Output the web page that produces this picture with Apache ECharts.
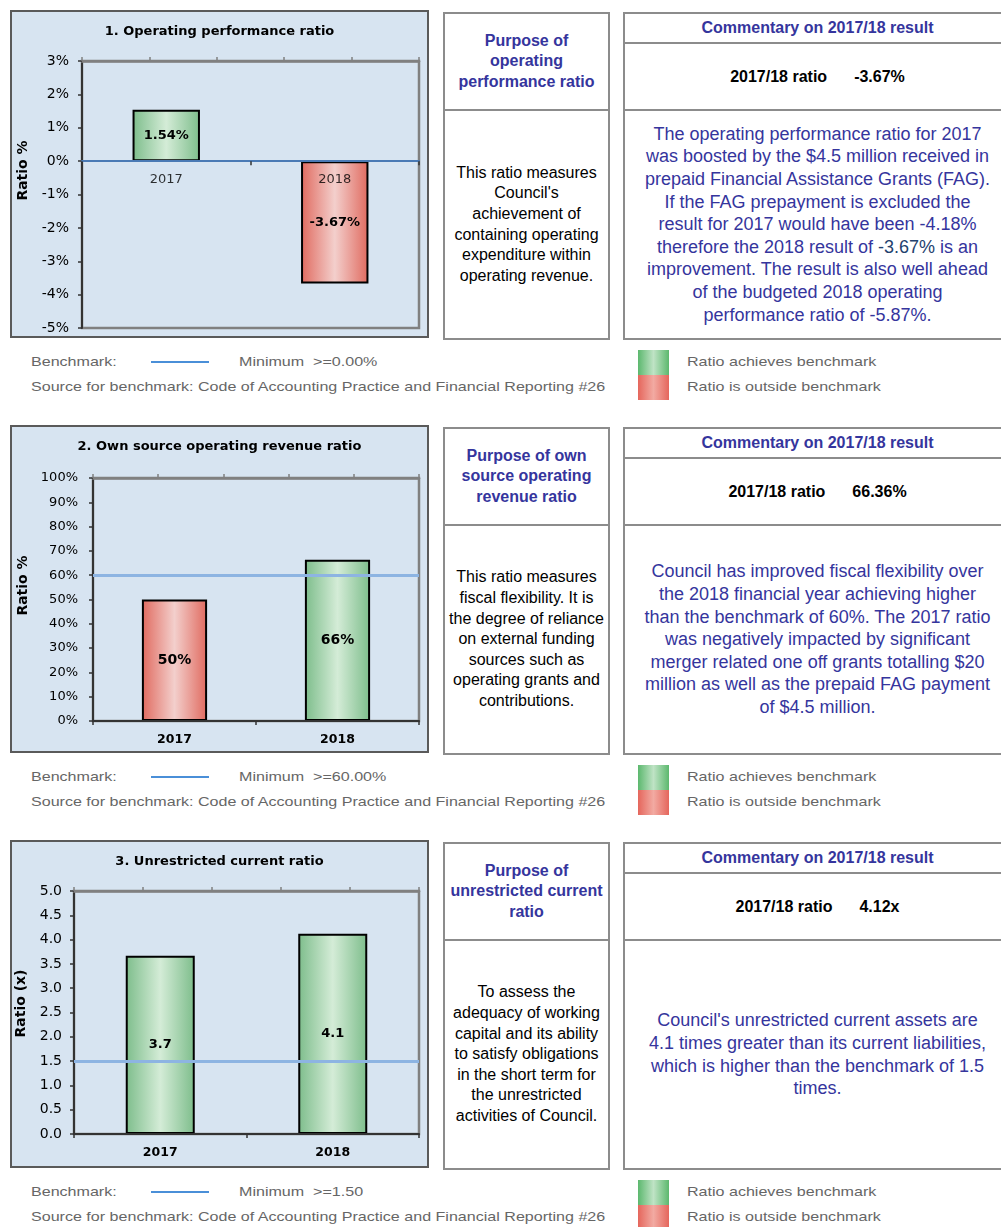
<!DOCTYPE html>
<html>
<head>
<meta charset="utf-8">
<script src="https://cdn.jsdelivr.net/npm/echarts@6.0.0/dist/echarts.min.js"></script>
<style>
  html, body { margin: 0; padding: 0; }
  body { width: 1001px; height: 1227px; overflow: hidden; background: #fff; position: relative;
         font-family: 'Liberation Sans', Arial, sans-serif; }
  .row { position: absolute; left: 0; width: 1001px; height: 415px; }
  .panel { position: absolute; left: 10px; top: 10px; width: 419px; height: 328px; box-sizing: border-box;
           border: 2px solid #5a5a5a; background: #d7e4f1; }
  .chart { position: absolute; left: 0; top: 0; width: 415px; height: 324px; }
  .box { position: absolute; top: 12px; height: 328px; box-sizing: border-box; border: 2px solid #8c8c8c;
         display: flex; flex-direction: column; }
  .purpose { left: 443px; width: 167px; }
  .comment { left: 623px; width: 389px; }
  .sec { display: flex; align-items: center; justify-content: center; text-align: center; box-sizing: border-box;
         white-space: nowrap; }
  .purpose .h { height: 97px; border-bottom: 2px solid #8c8c8c; color: #35359d; font-weight: bold;
                font-size: 16px; line-height: 20.5px; }
  .purpose .b { flex: 1; font-size: 16px; line-height: 20.6px; color: #000; }
  .comment .h { height: 30px; border-bottom: 2px solid #8c8c8c; color: #35359d; font-weight: bold; font-size: 16px; }
  .comment .r { height: 67px; border-bottom: 2px solid #8c8c8c; color: #000; font-weight: bold; font-size: 16px; }
  .comment .r span + span { margin-left: 27px; }
  .comment .b { flex: 1; color: #35359d; font-size: 18px; line-height: 22.6px; }
  .lg { position: absolute; font-size: 13.5px; line-height: 16px; color: #666; white-space: nowrap;
        transform: scaleX(1.19); transform-origin: left center; }
  .bline { position: absolute; left: 151px; top: 361px; width: 58px; height: 2px; background: #4a8fd8; }
  .sw { position: absolute; left: 638px; width: 31px; height: 25px; }
  .sw.g { top: 350px; background: linear-gradient(to right, #5cb86e, #bfe3c5 50%, #5cb86e); }
  .sw.r { top: 375px; background: linear-gradient(to right, #e5665c, #f2aaa2 50%, #e5665c); }
</style>
</head>
<body>

<div class="row" style="top:0px">
  <div class="panel"><div class="chart" id="c1"></div></div>
  <div class="box purpose">
    <div class="sec h"><div>Purpose of<br>operating<br>performance ratio</div></div>
    <div class="sec b"><div>This ratio measures<br>Council's<br>achievement of<br>containing operating<br>expenditure within<br>operating revenue.</div></div>
  </div>
  <div class="box comment">
    <div class="sec h"><div>Commentary on 2017/18 result</div></div>
    <div class="sec r"><span>2017/18 ratio</span><span>-3.67%</span></div>
    <div class="sec b"><div>The operating performance ratio for 2017<br>was boosted by the $4.5 million received in<br>prepaid Financial Assistance Grants (FAG).<br>If the FAG prepayment is excluded the<br>result for 2017 would have been -4.18%<br>therefore the 2018 result of <span style="color:#23416e">-3.67%</span> is an<br>improvement. The result is also well ahead<br>of the budgeted 2018 operating<br>performance ratio of -5.87%.</div></div>
  </div>
  <div class="lg" style="left:31px;top:354px">Benchmark:</div>
  <div class="bline"></div>
  <div class="lg" style="left:239px;top:354px">Minimum&nbsp;&nbsp;&gt;=0.00%</div>
  <div class="lg" style="left:31px;top:379px">Source for benchmark: Code of Accounting Practice and Financial Reporting #26</div>
  <div class="sw g"></div><div class="sw r"></div>
  <div class="lg" style="left:687px;top:354px">Ratio achieves benchmark</div>
  <div class="lg" style="left:687px;top:379px">Ratio is outside benchmark</div>
</div>

<div class="row" style="top:415px">
  <div class="panel"><div class="chart" id="c2"></div></div>
  <div class="box purpose">
    <div class="sec h"><div>Purpose of own<br>source operating<br>revenue ratio</div></div>
    <div class="sec b"><div>This ratio measures<br>fiscal flexibility. It is<br>the degree of reliance<br>on external funding<br>sources such as<br>operating grants and<br>contributions.</div></div>
  </div>
  <div class="box comment">
    <div class="sec h"><div>Commentary on 2017/18 result</div></div>
    <div class="sec r"><span>2017/18 ratio</span><span>66.36%</span></div>
    <div class="sec b"><div>Council has improved fiscal flexibility over<br>the 2018 financial year achieving higher<br>than the benchmark of 60%. The 2017 ratio<br>was negatively impacted by significant<br>merger related one off grants totalling $20<br>million as well as the prepaid FAG payment<br>of $4.5 million.</div></div>
  </div>
  <div class="lg" style="left:31px;top:354px">Benchmark:</div>
  <div class="bline"></div>
  <div class="lg" style="left:239px;top:354px">Minimum&nbsp;&nbsp;&gt;=60.00%</div>
  <div class="lg" style="left:31px;top:379px">Source for benchmark: Code of Accounting Practice and Financial Reporting #26</div>
  <div class="sw g"></div><div class="sw r"></div>
  <div class="lg" style="left:687px;top:354px">Ratio achieves benchmark</div>
  <div class="lg" style="left:687px;top:379px">Ratio is outside benchmark</div>
</div>

<div class="row" style="top:830px">
  <div class="panel"><div class="chart" id="c3"></div></div>
  <div class="box purpose">
    <div class="sec h"><div>Purpose of<br>unrestricted current<br>ratio</div></div>
    <div class="sec b"><div>To assess the<br>adequacy of working<br>capital and its ability<br>to satisfy obligations<br>in the short term for<br>the unrestricted<br>activities of Council.</div></div>
  </div>
  <div class="box comment">
    <div class="sec h"><div>Commentary on 2017/18 result</div></div>
    <div class="sec r"><span>2017/18 ratio</span><span>4.12x</span></div>
    <div class="sec b"><div>Council's unrestricted current assets are<br>4.1 times greater than its current liabilities,<br>which is higher than the benchmark of 1.5<br>times.</div></div>
  </div>
  <div class="lg" style="left:31px;top:354px">Benchmark:</div>
  <div class="bline"></div>
  <div class="lg" style="left:239px;top:354px">Minimum&nbsp;&nbsp;&gt;=1.50</div>
  <div class="lg" style="left:31px;top:379px">Source for benchmark: Code of Accounting Practice and Financial Reporting #26</div>
  <div class="sw g"></div><div class="sw r"></div>
  <div class="lg" style="left:687px;top:354px">Ratio achieves benchmark</div>
  <div class="lg" style="left:687px;top:379px">Ratio is outside benchmark</div>
</div>

<script>
// ---- data ----
const years = ['2017', '2018'];
const opPerfValues = [1.54, -3.67];        // %
const ownSourceValues = [50.0, 66.36];     // %
const unrestrictedValues = [3.67, 4.12];   // x
const benchmarks = [0, 60, 1.5];
const chartTitles = ['1. Operating performance ratio', '2. Own source operating revenue ratio', '3. Unrestricted current ratio'];
const axisNames = ['Ratio %', 'Ratio %', 'Ratio (x)'];
const axisMin = [-5, 0, 0];
const axisMax = [3, 100, 5];
const axisStep = [1, 10, 0.5];
const topTickCats = ['', '', '', '', ''];

// ---- styling ----
const FONT = 'DejaVu Sans';
function grad(edge, mid) {
  return new echarts.graphic.LinearGradient(0, 0, 1, 0, [
    { offset: 0, color: edge }, { offset: 0.5, color: mid }, { offset: 1, color: edge }
  ]);
}
const GREEN = grad('#7dbd8b', '#d4ecd7');
const RED = grad('#e06a5f', '#f3cfcc');

function build(el, idx, values, opts) {
  const bench = benchmarks[idx];
  const labelStyle = { fontFamily: FONT, fontSize: opts.xFont, fontWeight: opts.xBold ? 'bold' : 'normal', color: '#000' };
  const xAxes = [
    {
      type: 'category', data: years, position: 'bottom', z: 5,
      axisLine: { onZero: true, onZeroAxisIndex: 0, lineStyle: { color: opts.zeroColor, width: 2 } },
      axisTick: { show: true, length: 4, lineStyle: { color: '#333', width: 1.5 } },
      axisLabel: Object.assign({ show: !opts.labelsAtZero, margin: opts.xMargin }, labelStyle)
    },
    {
      type: 'category', data: topTickCats, position: 'top',
      axisLine: { onZero: false, lineStyle: { color: '#808080', width: 2.5 } },
      axisTick: { show: true, length: 4, lineStyle: { color: '#808080', width: 1.5 } },
      axisLabel: { show: false }
    }
  ];
  const series = [{
    type: 'bar', xAxisIndex: 0, barWidth: '40%',
    data: values.map(v => ({ value: v, itemStyle: { color: v >= bench ? GREEN : RED } })),
    itemStyle: { borderColor: '#000', borderWidth: 2 },
    label: {
      show: true, position: 'inside', formatter: p => opts.labelFmt(p.value),
      fontFamily: FONT, fontSize: opts.labelFont, fontWeight: 'bold', color: '#000'
    },
    markLine: {
      silent: true, symbol: ['none', 'none'], label: { show: false },
      lineStyle: { color: opts.benchColor, width: opts.benchWidth, type: 'solid' },
      data: [{ yAxis: bench }]
    }
  }];
  if (opts.labelsAtZero) {
    // category labels sitting just under the zero line (axis crosses at 0)
    series.push({
      type: 'scatter', xAxisIndex: 0, silent: true, z: 10, symbolSize: 0,
      data: years.map(y => [y, 0]),
      label: Object.assign({ show: true, position: 'bottom', distance: opts.xMargin, formatter: p => p.value[0] }, labelStyle)
    });
  }
  const chart = echarts.init(document.getElementById(el), null, { renderer: 'canvas' });
  chart.setOption({
    animation: false,
    title: {
      text: chartTitles[idx], left: 'center', top: 13, padding: 0,
      textStyle: { fontFamily: FONT, fontSize: 13, fontWeight: 'bold', color: '#000' }
    },
    grid: Object.assign({ show: true, borderColor: '#808080', borderWidth: 2.5, backgroundColor: 'transparent',
                          containLabel: false, outerBoundsMode: 'none' }, opts.grid),
    xAxis: xAxes,
    yAxis: {
      type: 'value', min: axisMin[idx], max: axisMax[idx], interval: axisStep[idx],
      name: axisNames[idx], nameLocation: 'middle', nameGap: opts.nameGap,
      nameTextStyle: { fontFamily: FONT, fontSize: 14, fontWeight: 'bold', color: '#000', padding: [0, 0, 0, opts.namePad] },
      axisLine: { show: true, lineStyle: { color: '#333', width: 2 } },
      axisTick: { show: true, length: 4, lineStyle: { color: '#333', width: 1.5 } },
      splitLine: { show: false },
      axisLabel: { fontFamily: FONT, fontSize: opts.yFont, color: '#000', margin: opts.yMargin, formatter: opts.yFmt }
    },
    series: series
  });
}

build('c1', 0, opPerfValues, {
  grid: { left: 70, top: 49, width: 337, height: 267 },
  zeroColor: '#4a7ab5', labelsAtZero: true,
  xFont: 13, xBold: false, xMargin: 12,
  yFont: 14, yMargin: 13, yFmt: '{value}%',
  nameGap: 49, namePad: 48,
  labelFont: 13, labelFmt: v => v.toFixed(2) + '%',
  benchColor: '#4a7ab5', benchWidth: 2
});
build('c2', 1, ownSourceValues, {
  grid: { left: 81, top: 51, width: 326, height: 243 },
  zeroColor: '#333', labelsAtZero: false,
  xFont: 12.5, xBold: true, xMargin: 12,
  yFont: 13, yMargin: 15, yFmt: '{value}%',
  nameGap: 61, namePad: 28,
  labelFont: 14, labelFmt: v => Math.round(v) + '%',
  benchColor: '#8db4e2', benchWidth: 3
});
build('c3', 2, unrestrictedValues, {
  grid: { left: 62, top: 49, width: 345, height: 243 },
  zeroColor: '#333', labelsAtZero: false,
  xFont: 12.5, xBold: true, xMargin: 12,
  yFont: 14, yMargin: 12, yFmt: v => v.toFixed(1),
  nameGap: 41, namePad: 18,
  labelFont: 13, labelFmt: v => v.toFixed(1),
  benchColor: '#8db4e2', benchWidth: 3
});
</script>
</body>
</html>
